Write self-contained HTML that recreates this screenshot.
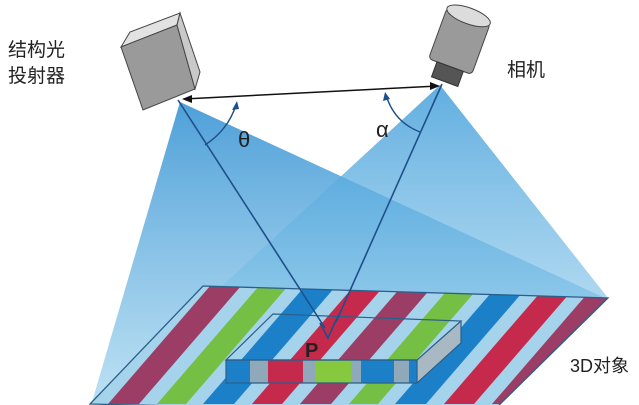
<!DOCTYPE html>
<html><head><meta charset="utf-8"><style>
html,body{margin:0;padding:0;background:#fff;width:639px;height:405px;overflow:hidden}
svg{display:block}
text{font-family:"Liberation Sans","Noto Sans CJK SC",sans-serif;fill:#222}
</style></head><body>
<svg width="639" height="405" viewBox="0 0 639 405" xmlns="http://www.w3.org/2000/svg">
<defs>
<linearGradient id="g1" x1="0" y1="0" x2="0" y2="1">
<stop offset="0" stop-color="#2f8fd2" stop-opacity="0.85"/>
<stop offset="1" stop-color="#9fd3ee" stop-opacity="0.7"/>
</linearGradient>
<linearGradient id="g2" x1="0" y1="0" x2="0" y2="1">
<stop offset="0" stop-color="#3a9ad8" stop-opacity="0.8"/>
<stop offset="1" stop-color="#a8d8f0" stop-opacity="0.6"/>
</linearGradient>
<clipPath id="pl"><polygon points="203,286 608,298 491,413 90,404"/></clipPath>
<clipPath id="bx"><polygon points="273,314 461,321 417,360 226,360"/></clipPath>
</defs>
<!-- cones -->
<polygon points="180,102 92,402 605,298" fill="url(#g1)"/>
<polygon points="440,85 96,402 608,298" fill="url(#g2)"/>
<!-- plane -->
<g clip-path="url(#pl)">
<rect x="0" y="270" width="639" height="150" fill="#a6d3ec"/>
<g id="st">
<polygon points="210,286 241,286 139,404 108,404" fill="#9c3d66"/>
<polygon points="259,286 288,286 186,404 157,404" fill="#76bf45"/>
<polygon points="305,286 336,286 234,404 203,404" fill="#1c80c9"/>
<polygon points="354,286 384,286 282,404 252,404" fill="#c52a4c"/>
</g>
<use href="#st" x="-192"/>
<use href="#st" x="192"/>
<use href="#st" x="384"/>
</g>
<polygon points="203,286 608,298 491,413 90,404" fill="none" stroke="#2a5f8a" stroke-width="1.3"/>
<!-- box -->
<polygon points="226,360 417,360 417,383 226,383" fill="#1c80c9"/>
<rect x="250" y="360" width="18" height="23" fill="#8fa9bb"/>
<rect x="268" y="360" width="35" height="23" fill="#c52a4c"/>
<rect x="303" y="360" width="12" height="23" fill="#8fa9bb"/>
<rect x="315" y="360" width="36" height="23" fill="#86c83e"/>
<rect x="351" y="360" width="10" height="23" fill="#8fa9bb"/>
<rect x="394" y="360" width="15" height="23" fill="#8fa9bb"/>
<polygon points="417,360 461,321 461,343 417,383" fill="#a9b9c4"/>
<g clip-path="url(#bx)">
<rect x="200" y="300" width="280" height="70" fill="#a6d3ec"/>
<use href="#st" x="0" y="0"/>
<use href="#st" x="192" y="0"/>
<use href="#st" x="-192" y="0"/>
</g>
<polygon points="273,314 461,321 417,360 226,360" fill="none" stroke="#2a5f8a" stroke-width="1.2"/>
<polygon points="226,360 417,360 417,383 226,383" fill="none" stroke="#2a5f8a" stroke-width="1.2"/>
<polyline points="417,383 461,343 461,321" fill="none" stroke="#2a5f8a" stroke-width="1.2"/>
<!-- rays -->
<line x1="178" y1="100" x2="325" y2="328" stroke="#1f4f8a" stroke-width="1.6"/>
<line x1="442" y1="84" x2="336" y2="322" stroke="#1f4f8a" stroke-width="1.6"/>
<polyline points="320,323 328,338 337,318" fill="none" stroke="#1f4f8a" stroke-width="1.6"/>
<!-- baseline -->
<line x1="184" y1="99" x2="438" y2="86" stroke="#111" stroke-width="1.5"/>
<polygon points="182,99 192,95 192,103" fill="#111"/>
<polygon points="440,86 430,82 430,90" fill="#111"/>
<!-- arcs -->
<path d="M205,145 Q228,130 236,105" fill="none" stroke="#1f4f8a" stroke-width="1.4"/>
<polygon points="237,101 232,110 239,109" fill="#1f4f8a"/>
<path d="M386,95 Q394,122 420,132" fill="none" stroke="#1f4f8a" stroke-width="1.4"/>
<polygon points="385,92 383,101 390,99" fill="#1f4f8a"/>
<text x="238" y="147" font-size="22" fill="#1f3f6a">θ</text>
<text x="376" y="137" font-size="22" fill="#1f3f6a">α</text>
<text x="305" y="357" font-size="20" font-weight="bold" fill="#3a1a1a">P</text>
<!-- projector -->
<polygon points="121,47 130,32 180,13 177,25" fill="#e2e2e2" stroke="#444" stroke-width="1"/>
<polygon points="121,47 177,25 195,89 143,110" fill="#9a9a9a" stroke="#444" stroke-width="1"/>
<polygon points="177,25 180,13 200,72 195,89" fill="#c9c9c9" stroke="#444" stroke-width="1"/>
<!-- camera -->
<g transform="rotate(20 458 45)">
<rect x="435" y="14" width="46" height="54" rx="4" fill="#9a9a9a" stroke="#444"/>
<ellipse cx="458" cy="14" rx="23" ry="8" fill="#dcdcdc" stroke="#444"/>
<rect x="444" y="68" width="28" height="16" fill="#555" stroke="#333"/>
</g>
<!-- labels -->
<text x="8" y="56" font-size="19">结构光</text>
<text x="8" y="82" font-size="19">投射器</text>
<text x="507" y="76" font-size="19">相机</text>
<text x="570" y="372" font-size="18">3D对象</text>
</svg>
</body></html>
